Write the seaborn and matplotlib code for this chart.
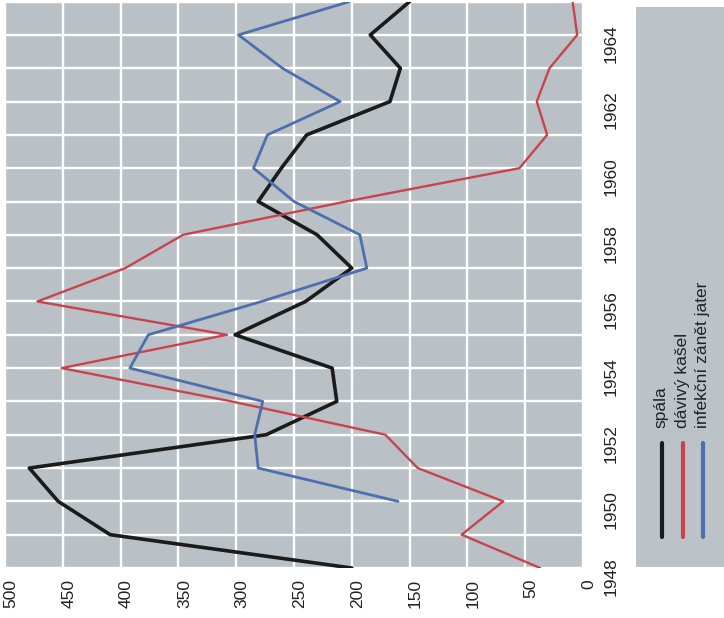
import numpy as np
import pandas as pd
import matplotlib
matplotlib.use("Agg")
import matplotlib.pyplot as plt
import matplotlib.transforms as mtransforms
from matplotlib.lines import Line2D
from matplotlib.patches import Rectangle
import seaborn as sns

# ---- data ----
years = list(range(1948, 1966))
spala = [200, 409, 454, 479, 274, 213, 217, 301, 240, 200, 230, 281, 261, 239, 167, 158, 184, 150]
davivy_kasel = [37, 105, 69, 143, 171, 304, 451, 308, 472, 396, 346, 205, 55, 31, 40, 29, 5, 9]
zanet_jater = [np.nan, np.nan, 160, 281, 284, 277, 392, 376, 278, 187, 193, 250, 285, 273, 210, 260, 298, 202]

series_names = ["spála", "dávivý kašel", "infekční zánět jater"]
series_colors = ["#1b1b1b", "#c9434f", "#4e6faf"]
series_widths = [2.6, 1.7, 2.0]

year_labels = [1948, 1950, 1952, 1954, 1956, 1958, 1960, 1962, 1964]
value_ticks = [0, 50, 100, 150, 200, 250, 300, 350, 400, 450, 500]

df = pd.DataFrame({
    "year": years * 3,
    "value": spala + davivy_kasel + zanet_jater,
    "disease": [series_names[0]] * len(years) + [series_names[1]] * len(years) + [series_names[2]] * len(years),
})

sns.set_theme(style="white")
plt.rcParams["font.family"] = ["Liberation Sans Narrow", "Liberation Sans", "DejaVu Sans"]

W, H = 724, 618
fig = plt.figure(figsize=(W / 100, H / 100), dpi=100)
fig.patch.set_facecolor("white")

ax = fig.add_axes([5 / W, 1 - 568 / H, 578 / W, (568 - 1.6) / H])
ax.set_facecolor("#b9c1c6")

for name, col, lw in zip(series_names, series_colors, series_widths):
    sub = df[df["disease"] == name].dropna()
    sns.lineplot(data=sub, x="value", y="year", sort=False, estimator=None,
                 orient="y", color=col, linewidth=lw, ax=ax, legend=False)

ax.set_xlim(500, 0)
ax.set_ylim(1948, 1965)
ax.set_xticks(value_ticks)
ax.set_xticklabels([str(v) for v in value_ticks])
ax.set_yticks(years)
ax.set_yticklabels([str(y) if y in year_labels else "" for y in years])
ax.grid(True, color="white", linewidth=1.7)
ax.set_axisbelow(True)
ax.yaxis.tick_right()
ax.tick_params(axis="y", length=0, pad=15, labelsize=12.5, labelcolor="#222222", labelrotation=90)
ax.tick_params(axis="x", length=0, pad=8, labelsize=12.5, labelcolor="#222222", labelrotation=90)
for sp in ax.spines.values():
    sp.set_visible(False)
ax.set_xlabel("")
ax.set_ylabel("")

# legend panel (rotated legend)
fig.add_artist(Rectangle((636 / W, 1 - 567 / H), 90 / W, 560 / H,
                         transform=fig.transFigure, facecolor="#bcc3c8",
                         edgecolor="none", zorder=0))
leg_x = [662, 683, 703]
for x, name, col in zip(leg_x, series_names, series_colors):
    fig.add_artist(Line2D([x / W, x / W], [1 - 537 / H, 1 - 443 / H],
                          transform=fig.transFigure, color=col, linewidth=3,
                          solid_capstyle="round"))
    fig.text((x - 1) / W, 1 - 428 / H, name, rotation=90, ha="center", va="bottom",
             fontsize=12.5, color="#222222")

# small print-like offsets of tick labels
fig.canvas.draw()
off_x = mtransforms.ScaledTranslation(6 / 100, 0, fig.dpi_scale_trans)
off_y = mtransforms.ScaledTranslation(0, 5 / 100, fig.dpi_scale_trans)
for lab in ax.get_xticklabels():
    lab.set_transform(lab.get_transform() + off_x)
for lab in ax.get_yticklabels():
    lab.set_transform(lab.get_transform() + off_y)

fig.savefig("out.png", dpi=100)
